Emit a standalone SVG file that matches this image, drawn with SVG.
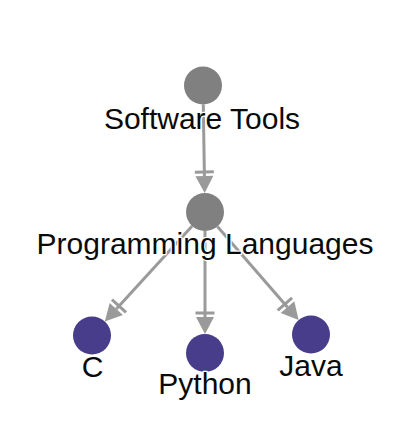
<svg xmlns="http://www.w3.org/2000/svg" width="416" height="427" viewBox="0 0 416 427">
  <style>
    .edge { stroke: #9a9a9a; stroke-width: 3; fill: none; }
    .root { fill: #808080; }
    .leaf { fill: #483d8b; }
    .label { font-family: "Liberation Sans", Arial, sans-serif; font-size: 30px; fill: #0a0a0a; text-anchor: middle; stroke: #ffffff; stroke-width: 2.5; paint-order: stroke; stroke-linejoin: round; }
  </style>
  <defs>
    <marker id="tritee" markerUnits="userSpaceOnUse" markerWidth="40" markerHeight="40" refX="0" refY="0" orient="auto" overflow="visible">
      <path d="M0,-9 L17,0 L0,9 Z M-5.5,-9.5 h3 v19 h-3 Z" fill="#9a9a9a"/>
    </marker>
  </defs>
  <rect width="416" height="427" fill="#ffffff"/>
  <g id="connectors">
    <line class="edge" x1="203.3" y1="104.5" x2="204.4" y2="176" marker-end="url(#tritee)"/>
    <line class="edge" x1="192.2" y1="226" x2="116.3" y2="309" marker-end="url(#tritee)"/>
    <line class="edge" x1="205" y1="231" x2="205" y2="317" marker-end="url(#tritee)"/>
    <line class="edge" x1="217.4" y1="226.4" x2="287.5" y2="307.2" marker-end="url(#tritee)"/>
  </g>
  <g id="node-software-tools">
    <circle class="root" cx="203" cy="85.5" r="19"/>
    <text class="label" x="202" y="129">Software Tools</text>
  </g>
  <g id="node-programming-languages">
    <circle class="root" cx="205" cy="212" r="19"/>
    <text class="label" x="205" y="253.5">Programming Languages</text>
  </g>
  <g id="node-c">
    <circle class="leaf" cx="92" cy="335.5" r="19"/>
    <text class="label" x="92.5" y="377">C</text>
  </g>
  <g id="node-python">
    <circle class="leaf" cx="205" cy="353" r="19"/>
    <text class="label" x="205" y="394">Python</text>
  </g>
  <g id="node-java">
    <circle class="leaf" cx="311" cy="334.5" r="19"/>
    <text class="label" x="311" y="376">Java</text>
  </g>
</svg>
